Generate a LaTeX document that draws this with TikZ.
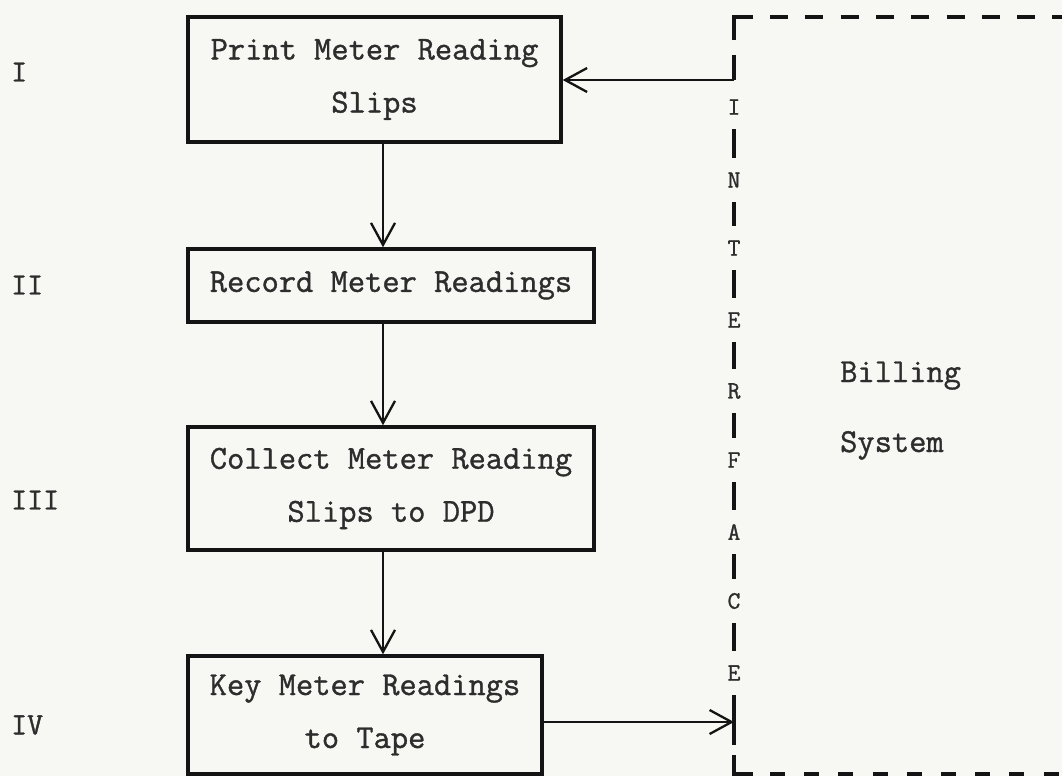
\documentclass[tikz,border=0pt]{standalone}
\usepackage{fontspec}
\usetikzlibrary{arrows.meta}
\newfontfamily\typew{Latin Modern Mono}[FakeBold=1.1]
\definecolor{paper}{RGB}{247,247,243}
\definecolor{ink}{RGB}{20,20,20}
\definecolor{typeink}{RGB}{45,45,45}
\tikzset{
  stepbox/.style={draw=ink, line width=3.4pt, align=center, inner sep=0pt,
    text=typeink, font=\typew\fontsize{33.5}{53}\selectfont},
  arr/.style={draw=ink, line width=2.3pt,
    -{Straight Barb[length=22pt,width=24pt,line width=2.3pt]}},
  iletter/.style={inner sep=0pt, minimum height=44pt, text=typeink,
    font=\typew\fontsize{25}{25}\selectfont},
  iface/.style={draw=ink, line width=3.6pt},
  rowlab/.style={anchor=west, inner sep=0pt, text=typeink,
    font=\typew\fontsize{31}{31}\selectfont},
  systext/.style={anchor=base west, inner sep=0pt, text=typeink,
    font=\typew\fontsize{33.5}{33.5}\selectfont}
}
\begin{document}
\begin{tikzpicture}[x=1pt,y=-1pt]
\fill[paper] (0,0) rectangle (1062,776);
\useasboundingbox (0,0) rectangle (1062,776);

% process boxes
\node[stepbox, minimum width=373pt, minimum height=125pt] (b1) at (374.5,79.5) {Print Meter Reading\\Slips};
\node[stepbox, minimum width=406pt, minimum height=73pt] (b2) at (391,285.5) {Record Meter Readings};
\node[stepbox, minimum width=406pt, minimum height=123pt] (b3) at (391,488.5) {Collect Meter Reading\\Slips to DPD};
\node[stepbox, minimum width=354pt, minimum height=118pt] (b4) at (365,715) {Key Meter Readings\\to Tape};

% row labels
\node[rowlab] (r1) at (11,72) {I};
\node[rowlab] (r2) at (11,285) {II};
\node[rowlab] (r3) at (11,500) {III};
\node[rowlab] (r4) at (11,725) {IV};

% flow arrows
\coordinate (col) at (383,0);
\draw[arr] (b1.south -| col) -- (b2.north -| col);
\draw[arr] (b2.south -| col) -- (b3.north -| col);
\draw[arr] (b3.south -| col) -- (b4.north -| col);

% interface line and letters
\coordinate (in1) at (734,80);
\coordinate (out1) at (734,722);
\coordinate (v1) at (734,55);
\coordinate (v2) at (734,745);
\node[iletter] (iI) at (734,107) {I};
\node[iletter] (iN) at (734,180) {N};
\node[iletter] (iT) at (734,248) {T};
\node[iletter] (iE) at (734,320) {E};
\node[iletter] (iR) at (734,391) {R};
\node[iletter] (iF) at (734,460) {F};
\node[iletter] (iA) at (734,532) {A};
\node[iletter] (iC) at (734,601) {C};
\node[iletter] (iE2) at (734,673) {E};

\draw[iface] (v1) -- (in1);
\draw[iface] (iI) -- (iN);
\draw[iface] (iN) -- (iT);
\draw[iface] (iT) -- (iE);
\draw[iface] (iE) -- (iR);
\draw[iface] (iR) -- (iF);
\draw[iface] (iF) -- (iA);
\draw[iface] (iA) -- (iC);
\draw[iface] (iC) -- (iE2);
\draw[iface] (iE2) -- (v2);

% dashed frame of the billing system
\coordinate (tc0) at (734,40);
\coordinate (tc) at (734,17);
\coordinate (tc1) at (753,17);
\coordinate (ts) at (770,17);
\coordinate (te) at (1062,17);
\coordinate (bc0) at (734,755);
\coordinate (bc) at (734,774);
\coordinate (bc1) at (753,774);
\coordinate (bs) at (770,774);
\coordinate (be) at (1062,774);
\draw[iface] (tc0) -- (tc) -- (tc1);
\draw[iface, dash pattern=on 18pt off 17.3pt] (ts) -- (te);
\draw[iface] (bc0) -- (bc) -- (bc1);
\draw[iface, dash pattern=on 15pt off 19.2pt] (bs) -- (be);

% arrows across the interface
\draw[arr] (in1) -- (b1.east |- in1);
\draw[arr] (b4.east |- out1) -- (out1);

% billing system label
\node[systext] (bill) at (840,382) {Billing};
\node[systext] (sys) at (840,452) {System};
\end{tikzpicture}
\end{document}
